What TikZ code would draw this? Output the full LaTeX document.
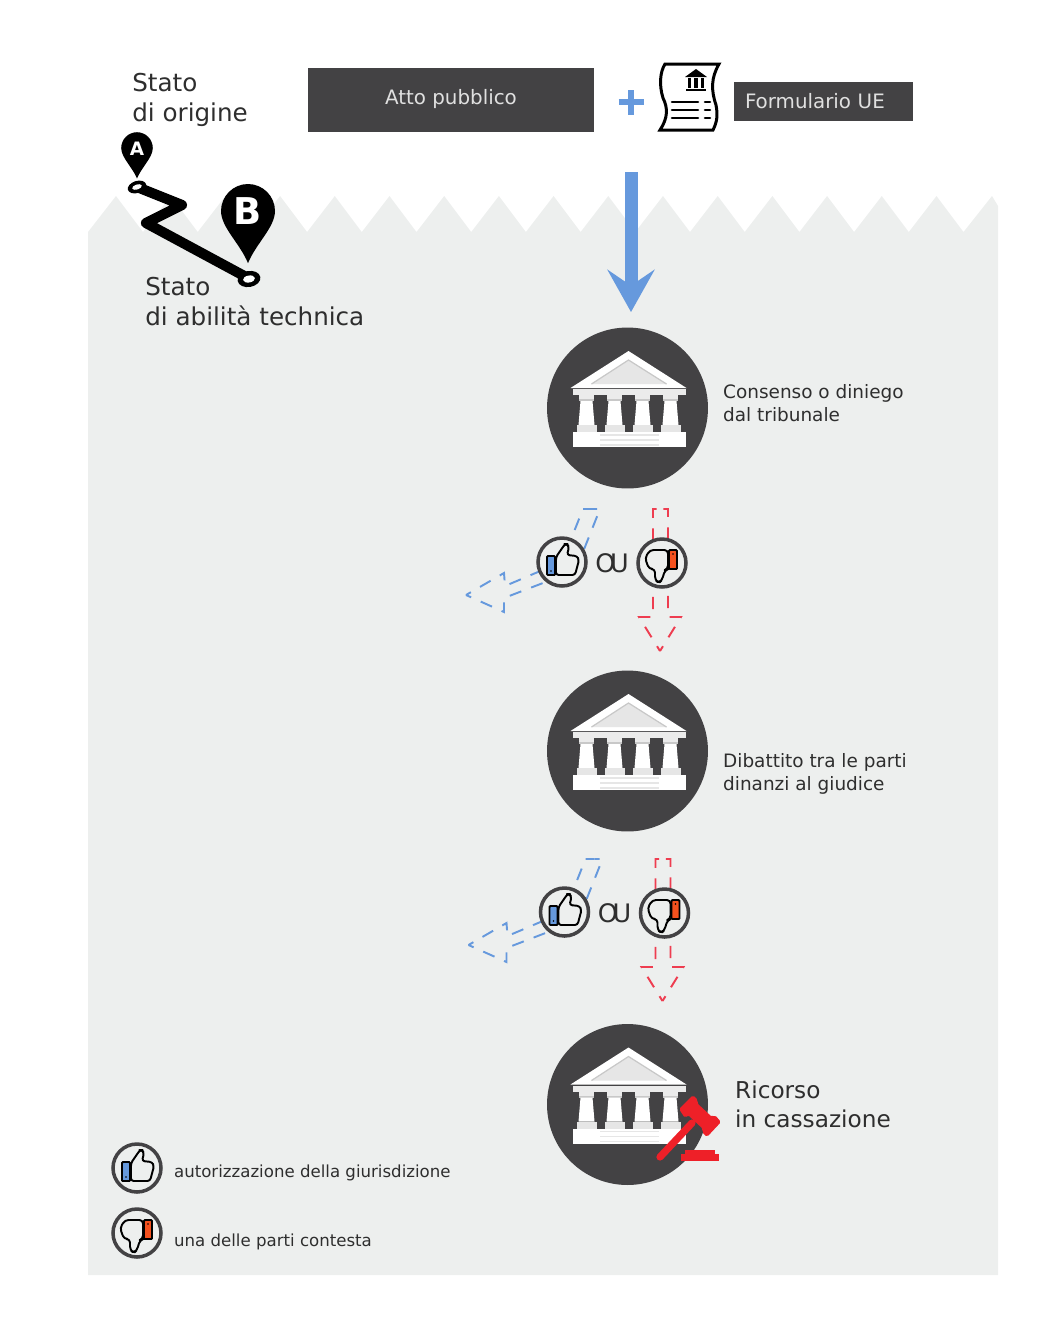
\documentclass[tikz,border=0pt]{standalone}
\usepackage{fontspec}
\setmainfont{DejaVu Sans}
\usetikzlibrary{positioning}
\usetikzlibrary{arrows.meta}
\definecolor{paper}{HTML}{EDEFEE}
\definecolor{slate}{HTML}{434244}
\definecolor{inkdark}{HTML}{2E2E2E}
\definecolor{upblue}{HTML}{6699DD}
\definecolor{downred}{HTML}{EE3D50}
\definecolor{gavelred}{HTML}{EE2028}
\definecolor{cuffred}{HTML}{F4511E}
\definecolor{stone}{HTML}{E6E6E6}
\definecolor{stonedark}{HTML}{C8C8C8}
\tikzset{
	court/.style={circle, inner sep=0pt, minimum size=3.22cm, fill=slate},
	banner/.style={rectangle, inner sep=0pt, fill=slate, text=white!88!black},
	bigtext/.style={anchor=north west, align=left, inner sep=0pt, text=inkdark, font=\fontsize{14}{17}\selectfont},
	smalltext/.style={anchor=west, align=left, inner sep=0pt, text=inkdark, font=\fontsize{10.5}{13}\selectfont},
	legendtext/.style={anchor=west, inner sep=0pt, text=inkdark, font=\fontsize{9.45}{12}\selectfont},
	thumbring/.style={circle, inner sep=0pt, minimum size=0.96cm, draw=slate, line width=2pt, fill=paper},
	pinletter/.style={inner sep=0pt, text=white, font=\bfseries},
	dashup/.style={draw=upblue, line width=1.1pt, dash pattern=on 7pt off 6pt, dash phase=3.8pt},
	dashdown/.style={draw=downred, line width=1.1pt, dash pattern=on 7pt off 6pt, dash phase=3.8pt},
	% temple with its four columns
	temple/.pic={
		\fill[white] (1,-57) -- (59,-20) -- (-57,-20) -- cycle;
		\fill[stone] (1,-48) -- (39,-24) -- (-36,-24) -- cycle;
		\draw[stonedark, line width=0.7pt] (-36,-24) -- (1,-48) -- (39,-24);
		\fill[white!92!black] (-55,-19) rectangle (58,-13);
		\foreach \cx in {-41,-13,15,43} {
			\fill[white!92!black] (\cx-7.7,-13) rectangle (\cx+7.7,-7);
			\fill[stonedark] (\cx-7.7,-9) rectangle (\cx+7.7,-7);
			\fill[white] (\cx-6,-7) -- (\cx+6,-7) -- (\cx+8,17) -- (\cx-8,17) -- cycle;
			\fill[stone] (\cx-10,17) rectangle (\cx+10,24);
		}
		\fill[white] (-55,24) rectangle (58,39);
		\foreach \ly in {27,32,37} {
			\fill[stone] (-28,\ly-0.8) rectangle (31,\ly+0.8);
		}
	},
	thumbup/.pic={
		\draw[black, line width=1.1pt, line join=round, rounded corners=1.5pt, fill=paper]
			(-6,-5) -- (3,-18) -- (5,-18) -- (7,-15) -- (5,-7) -- (15,-6) -- (17,-2) -- (13,13) -- (-6,13) -- cycle;
		\draw[black, line width=1.1pt, fill=upblue, rounded corners=0.5pt] (-15,-6) rectangle (-7,13);
		\fill[black] (-11,9) circle (0.8);
	},
	thumbdown/.pic={
		\draw[black, line width=1.1pt, line join=round, rounded corners=2pt, fill=paper]
			(6,-13) -- (-12,-13) -- (-17,-5) -- (-13,6) -- (-7,6) -- (-7,17) -- (-3,20) -- (0,17) -- (3,7) -- (6,6) -- cycle;
		\draw[black, line width=1.1pt, fill=cuffred, rounded corners=0.5pt] (7,-13) rectangle (15,6);
		\fill[black] (11,-9) circle (0.8);
	},
	% the two dashed ways out of a court
	outcome/.pic={
		\path[dashup] (-96,33) -- (-58,11) -- (-57,24) -- (-17,7) -- (0,0) -- (21,-53) -- (30,-53);
		\path[dashup] (-96,33) -- (-58,50) -- (-58,36) -- (-19,21) -- (17,0) -- (38,-53) -- (30,-53);
		\path[dashdown] (98,89) -- (77,55) -- (91,55) -- (91,-53) -- (98,-53);
		\path[dashdown] (98,89) -- (119,55) -- (106,55) -- (106,-53) -- (98,-53);
		\node (-up) [thumbring] at (0,0) {};
		\node (-down) [thumbring] at (100,1) {};
		\pic at (-up) {thumbup};
		\pic at (-down) {thumbdown};
		\node (-or) [inner sep=0pt, text=inkdark, font=\fontsize{14.5}{17}\selectfont] at (50,1) {O\kern-3pt U};
	},
}

\begin{document}
\begin{tikzpicture}[x=0.02cm, y=-0.02cm]
	\useasboundingbox (0,0) rectangle (1060,1330);
	
	% grey sheet with the torn upper edge
	\fill[paper] (88,1275) -- (88,232)
		\foreach \k in {0,...,15} { -- (116+54.7*\k,196) -- (143+54.7*\k,232) }
		-- (992,196) -- (998,206) -- (998,1275) -- cycle;
	
	\node (atto) [banner, minimum width=5.72cm, minimum height=1.28cm, font=\fontsize{11.3}{14}\selectfont] at (451,100) {\raisebox{3.2pt}{Atto pubblico}};
	\node (form) [banner, minimum width=3.58cm, minimum height=0.78cm, font=\fontsize{11.3}{14}\selectfont, text width=3.14cm, align=left] at (823.5,101.5) {Formulario UE};
	
	\coordinate (plus) at (631,102);
	\draw[upblue, line width=2.9pt] ([xshift=-0.25cm]plus) -- ([xshift=0.25cm]plus);
	\draw[upblue, line width=2.9pt] ([yshift=-0.25cm]plus) -- ([yshift=0.25cm]plus);
	
	% form icon
	\draw[black, line width=1.7pt, fill=white, line join=miter] (665,64) -- (719,64)
		.. controls (711,78) and (711,90) .. (716,105) .. controls (718,115) and (717,122) .. (713,130)
		-- (660,130) .. controls (668,118) and (668,108) .. (663,98) .. controls (659,85) and (660,72) .. (665,64) -- cycle;
	\fill[black] (696,69) -- (707,77) -- (685,77) -- cycle;
	\foreach \cx in {689.5,696,702.5} {
		\fill[black] (\cx-1.6,78) rectangle (\cx+1.6,88);
	}
	\fill[black] (686,89) rectangle (706,91);
	\foreach \ly in {102,110,118} {
		\draw[black, line width=1.5pt, line cap=round] (672,\ly) -- (698,\ly);
		\draw[black, line width=1.5pt, line cap=round] (705,\ly) -- (710,\ly);
	}
	
	% road with its two pins
	\draw[black, line width=5.8pt, line join=round] (137,187) -- (182,205) -- (146,223) -- (248,278);
	\fill[black, rotate around={18:(137,187)}] (137,187) ellipse (9.5 and 6);
	\fill[white, rotate around={18:(137,187)}] (137,187) ellipse (5 and 2.5);
	\fill[black, rotate around={10:(249,279)}] (249,279) ellipse (11.5 and 8);
	\fill[white, rotate around={10:(249,279)}] (249,279) ellipse (6 and 3.5);
	\fill[black, shift={(137,148)}, scale=15.8] (0,1.93) .. controls (-.3,1.2) and (-1,.6) .. (-1,0) .. controls (-1,-.55) and (-.55,-1) .. (0,-1) .. controls (.55,-1) and (1,-.55) .. (1,0) .. controls (1,.6) and (.3,1.2) .. (0,1.93) -- cycle;
	\fill[black, shift={(248,211)}, scale=27] (0,1.93) .. controls (-.3,1.2) and (-1,.6) .. (-1,0) .. controls (-1,-.55) and (-.55,-1) .. (0,-1) .. controls (.55,-1) and (1,-.55) .. (1,0) .. controls (1,.6) and (.3,1.2) .. (0,1.93) -- cycle;
	\node (pinA) [pinletter, font=\bfseries\fontsize{10.5}{12}\selectfont] at (137,149) {A};
	\node (pinB) [pinletter, font=\bfseries\fontsize{21}{24}\selectfont] at (248,211) {B};
	
	\node (origin) [bigtext] at (132,73) {Stato\\di origine};
	\node (skill) [bigtext] at (145,277) {Stato\\di abilità technica};
	
	\node (court1) [court] at (627.5,408) {};
	\node (court2) [court] at (627.5,751) {};
	\node (court3) [court] at (627.5,1104.5) {};
	\pic at (court1) {temple};
	\pic at (court2) {temple};
	\pic at (court3) {temple};
	
	\coordinate (flowtop) at (631,172);
	\coordinate (flowtip) at (631,312);
	\draw[upblue, line width=7.4pt, -{Stealth[length=24pt, width=26.7pt, inset=9pt]}] (flowtop) -- (flowtip);
	
	\node (label1) [smalltext, right=0.29cm of court1, yshift=0.1cm] {Consenso o diniego\\dal tribunale};
	\node (label2) [smalltext, right=0.29cm of court2, yshift=-0.46cm] {Dibattito tra le parti\\dinanzi al giudice};
	\node (label3) [bigtext, anchor=west, right=0.53cm of court3, font=\fontsize{13.2}{16.5}\selectfont] {Ricorso\\in cassazione};
	
	\pic (first) at (562,562) {outcome};
	\pic (second) at (564.5,912) {outcome};
	
	% gavel over the last court
	\draw[gavelred, line width=4.1pt, line cap=round] (660,1157) -- (692,1123);
	\fill[gavelred, rounded corners=1pt] (679,1109) -- (693,1095) -- (698,1100) -- (697,1103) -- (712,1117) -- (715,1115) -- (721,1122) -- (707,1137) -- (702,1132) -- (703,1129) -- (688,1115) -- (685,1118) -- cycle;
	\fill[gavelred] (685,1150) rectangle (715,1155);
	\fill[gavelred] (681,1154) rectangle (719,1161);
	
	% legend
	\node (legendup) [thumbring] at (137,1168) {};
	\node (legenddown) [thumbring] at (137,1233) {};
	\pic at (legendup) {thumbup};
	\pic at (legenddown) {thumbdown};
	\node (textup) [legendtext, right=0.22cm of legendup, yshift=-0.1cm] {autorizzazione della giurisdizione};
	\node (textdown) [legendtext, right=0.22cm of legenddown, yshift=-0.18cm] {una delle parti contesta};
\end{tikzpicture}
\end{document}
